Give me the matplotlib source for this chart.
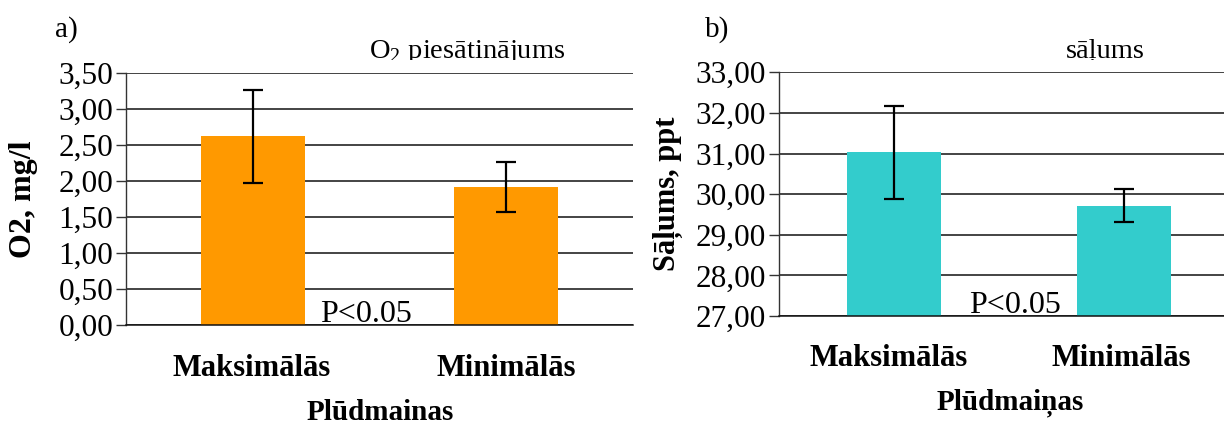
import matplotlib
matplotlib.use("Agg")
import matplotlib.pyplot as plt
from matplotlib.transforms import Bbox
import numpy as np

plt.rcParams['font.family'] = ['Liberation Serif', 'DejaVu Serif']
plt.rcParams['mathtext.fontset'] = 'custom'
plt.rcParams['mathtext.rm'] = 'Liberation Serif'

# Data
categories = ['Maksimālās', 'Minimālās']
o2_mean = [2.62, 1.92]
o2_err = [0.65, 0.35]
sal_mean = [31.03, 29.72]
sal_err = [1.15, 0.40]
o2_ticks = [0.0, 0.5, 1.0, 1.5, 2.0, 2.5, 3.0, 3.5]
sal_ticks = [27, 28, 29, 30, 31, 32, 33]

W, H = 1224, 425
fig = plt.figure(figsize=(W / 100, H / 100), dpi=100)


def px_axes(x0, y0, x1, y1):
    return fig.add_axes([x0 / W, 1 - y1 / H, (x1 - x0) / W, (y1 - y0) / H])


def ftext(x, y, s, **kw):
    return fig.text(x / W, 1 - y / H, s, **kw)


def style(ax, ticks, fmt, ylim, xlim):
    ax.set_ylim(*ylim)
    ax.set_xlim(*xlim)
    ax.set_yticks(ticks)
    ax.set_yticklabels([fmt(t) for t in ticks], fontsize=22.5)
    ax.set_xticks([])
    ax.grid(axis='y', color='#111111', linewidth=1.1)
    ax.set_axisbelow(True)
    for s in ('top', 'right'):
        ax.spines[s].set_visible(False)
    ax.spines['left'].set_color('#333333')
    ax.spines['bottom'].set_color('#111111')
    ax.spines['left'].set_linewidth(1.0)
    ax.spines['bottom'].set_linewidth(1.1)
    ax.tick_params(axis='y', length=7, width=1.0, color='#333333', pad=2)
    for t in ax.get_yticklines():
        t.set_clip_on(False)


def comma(v):
    return f"{v:.2f}".replace('.', ',')


x = np.arange(len(categories))
bw = 0.41

# Panel a) dissolved oxygen
ax1 = px_axes(125.7, 73.3, 633, 324.6)
ax1.bar(x, o2_mean, width=bw, color='#FF9900', zorder=2)
ax1.errorbar(x, o2_mean, yerr=o2_err, fmt='none', ecolor='black',
             elinewidth=1.6, capsize=7, capthick=1.6, zorder=3)
style(ax1, o2_ticks, comma, (0, 3.5), (-0.5, 1.5))

# Panel b) salinity
ax2 = px_axes(778.8, 72.3, 1232, 316)
ax2.bar(x, sal_mean, width=bw, color='#33CCCC', zorder=2)
ax2.errorbar(x, sal_mean, yerr=sal_err, fmt='none', ecolor='black',
             elinewidth=1.6, capsize=7, capthick=1.6, zorder=3)
style(ax2, sal_ticks, comma, (27, 33), (-0.5, 1.47))

# Panel letters
ftext(55, 30, 'a)', fontsize=21, va='center', ha='left')
ftext(705, 30, 'b)', fontsize=21, va='center', ha='left')

# Chart titles, cut off just under the baseline
clip = Bbox.from_extents(0, H - 59.5, W, H)
t1 = ftext(467, 57.5, r'O$_2$ piesātinājums', fontsize=20.5, ha='center',
           va='baseline')
t2 = ftext(1105, 57.5, 'sāļums', fontsize=20.5, ha='center', va='baseline')
for t in (t1, t2):
    t.set_clip_box(clip)
    t.set_clip_on(True)

# Axis titles
ftext(24, 199, 'O2, mg/l', fontsize=23, fontweight='bold', rotation=90,
      ha='center', va='center')
ftext(668, 194, 'Sāļums, ppt', fontsize=22, fontweight='bold', rotation=90,
      ha='center', va='center')

# Category labels
for xc, lab in zip([252, 506], categories):
    ftext(xc, 369, lab, fontsize=22, fontweight='bold', ha='center',
          va='center')
for xc, lab in zip([889, 1121], categories):
    ftext(xc, 359, lab, fontsize=22, fontweight='bold', ha='center',
          va='center')

ftext(380, 412, 'Plūdmainas', fontsize=21, fontweight='bold',
      ha='center', va='center')
ftext(1010, 403, 'Plūdmaiņas', fontsize=21, fontweight='bold',
      ha='center', va='center')

# Significance notes
ftext(320, 322, 'P<0.05', fontsize=23, ha='left', va='baseline')
ftext(969, 313, 'P<0.05', fontsize=23, ha='left', va='baseline')

fig.savefig('out.png', dpi=100)
